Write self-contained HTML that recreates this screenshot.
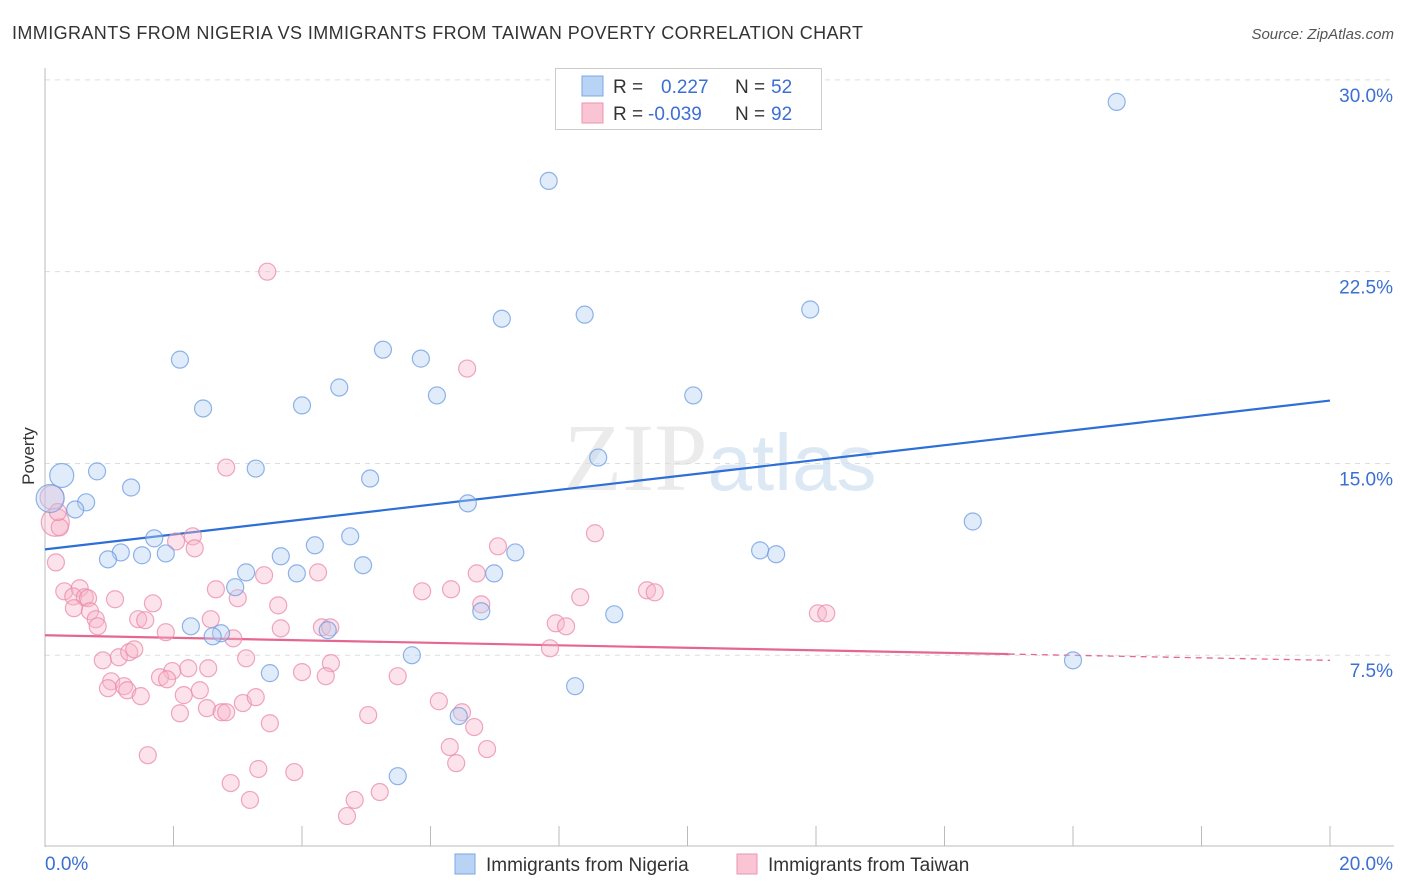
<!DOCTYPE html>
<html><head><meta charset="utf-8"><style>
body{margin:0;background:#fff;font-family:"Liberation Sans",sans-serif;}
svg{display:block}
</style></head><body>
<svg id="chart" width="1406" height="892" viewBox="0 0 1406 892" xmlns="http://www.w3.org/2000/svg">
<text x="12" y="39" font-size="18" fill="#333" textLength="851" lengthAdjust="spacing">IMMIGRANTS FROM NIGERIA VS IMMIGRANTS FROM TAIWAN POVERTY CORRELATION CHART</text>
<text x="1394" y="39" font-size="15" fill="#555" font-style="italic" text-anchor="end">Source: ZipAtlas.com</text>
<text x="720" y="490" font-size="96" fill="#ebebeb" text-anchor="middle" font-family="Liberation Serif,serif">ZIP<tspan fill="#dde8f5" font-family="Liberation Sans,sans-serif" font-size="80">atlas</tspan></text>
<g id="grid"></g>
<g id="axes"></g>
<g id="lines"></g>
<g id="pts"></g>
<text x="34" y="456" font-size="17" fill="#333" text-anchor="middle" transform="rotate(-90 34 456)">Poverty</text>
<g>
<rect x="555.5" y="68.5" width="266" height="61" fill="#fff" stroke="#ccc"/>
<rect x="582" y="76" width="21" height="20" fill="#b9d3f5" stroke="#7ba7e6"/>
<rect x="582" y="103" width="21" height="20" fill="#f9c5d5" stroke="#ee93b0"/>
<text y="93" font-size="19" fill="#333"><tspan x="613">R =</tspan><tspan x="661" fill="#3b6fd1">0.227</tspan><tspan x="735">N =</tspan><tspan x="771" fill="#3b6fd1">52</tspan></text>
<text y="120" font-size="19" fill="#333"><tspan x="613">R =</tspan><tspan x="648" fill="#3b6fd1">-0.039</tspan><tspan x="735">N =</tspan><tspan x="771" fill="#3b6fd1">92</tspan></text>
</g>
<g>
<rect x="455" y="854" width="20" height="20" fill="#b9d3f5" stroke="#7ba7e6"/>
<text x="486" y="871" font-size="19" fill="#333">Immigrants from Nigeria</text>
<rect x="737" y="854" width="20" height="20" fill="#f9c5d5" stroke="#ee93b0"/>
<text x="768" y="871" font-size="19" fill="#333">Immigrants from Taiwan</text>
</g>
</svg>
<script>
const xTicks=[0,2,4,6,8,10,12,14,16,18,20];
const yTicks=[7.5,15,22.5,30];
const yTickLabels=["7.5%","15.0%","22.5%","30.0%"];
const xEndLabels=["0.0%","20.0%"];
const nigeriaX=[16.68,7.84,8.40,7.11,11.91,2.10,5.26,5.85,4.58,6.10,10.09,2.46,4.00,3.28,0.81,0.26,1.34,5.06,8.61,0.64,0.47,6.58,14.44,1.70,4.75,4.20,1.18,0.98,1.51,1.88,3.67,7.32,11.13,11.38,4.95,3.13,3.92,6.99,2.96,6.79,8.86,2.27,2.74,4.40,2.61,5.71,3.50,16.00,8.25,6.44,5.49,0.08];
const nigeriaY=[29.14,26.05,20.82,20.66,21.02,19.06,19.45,19.10,17.97,17.66,17.66,17.15,17.27,14.80,14.69,14.53,14.06,14.41,15.23,13.48,13.20,13.44,12.73,12.07,12.15,11.80,11.52,11.25,11.41,11.48,11.37,11.52,11.60,11.45,11.02,10.74,10.70,10.70,10.16,9.22,9.10,8.63,8.36,8.48,8.24,7.50,6.80,7.30,6.29,5.12,2.77,13.63];
const taiwanX=[3.46,6.57,2.82,0.11,0.16,0.23,0.17,8.56,2.30,2.04,2.33,7.05,0.30,0.54,0.44,0.62,0.67,1.09,0.45,0.70,0.79,0.82,1.68,2.66,3.00,3.41,3.63,4.25,5.87,6.32,6.72,6.79,8.33,9.37,9.49,1.45,1.56,1.88,2.58,2.93,3.67,4.31,4.44,7.95,8.11,12.03,12.16,7.86,0.90,1.15,1.31,1.39,3.13,2.54,2.23,1.98,1.79,1.90,4.00,4.45,4.37,5.49,1.03,0.98,1.23,1.28,1.49,2.16,2.41,2.52,2.75,2.82,3.08,3.28,3.50,2.10,6.13,6.49,6.68,6.30,6.88,6.40,1.60,3.32,2.89,3.19,3.88,5.03,4.82,5.21,4.70,0.20];
const taiwanY=[22.50,18.71,14.84,13.67,12.70,12.50,11.13,12.27,12.15,11.95,11.68,11.76,10.00,10.12,9.80,9.77,9.73,9.69,9.34,9.22,8.91,8.63,9.53,10.08,9.73,10.63,9.45,10.74,10.00,10.08,10.70,9.49,9.77,10.04,9.96,8.91,8.87,8.40,8.91,8.16,8.55,8.59,8.59,8.75,8.63,9.14,9.14,7.77,7.30,7.42,7.62,7.73,7.38,6.99,6.99,6.88,6.64,6.56,6.84,7.19,6.68,6.68,6.48,6.21,6.29,6.13,5.90,5.94,6.13,5.43,5.27,5.27,5.63,5.86,4.84,5.23,5.70,5.27,4.69,3.91,3.83,3.28,3.59,3.05,2.50,1.84,2.93,5.16,1.84,2.15,1.21,13.10];
const nigeriaBig=[15,51];
const taiwanBig=[3,4];
const nigeriaTrend=[11.64,17.46];
const taiwanTrend=[8.28,7.30];
const taiwanSolidEnd=15.0;

const X0=45,X1=1330,Y0=847,YPER=25.57;
const sx=v=>X0+(X1-X0)*v/20;
const sy=v=>Y0-v*YPER;
const NS="http://www.w3.org/2000/svg";
function mk(t,a,p){const e=document.createElementNS(NS,t);for(const k in a)e.setAttribute(k,a[k]);p.appendChild(e);return e;}
const grid=document.getElementById('grid'),axes=document.getElementById('axes'),lines=document.getElementById('lines'),pts=document.getElementById('pts');
yTicks.forEach((v,i)=>{
 const l=mk('line',{x1:X0,x2:1394,y1:sy(v),y2:sy(v),stroke:'#ddd','stroke-dasharray':'5,5'},grid);
 
 
 const t=mk('text',{x:1393,y:sy(v)+22,'font-size':19,fill:'#3b6fd1','text-anchor':'end'},axes);
 t.textContent=yTickLabels[i];
 
 
});
const ya=mk('line',{x1:X0,x2:X0,y1:68,y2:847,stroke:'#bbb'},axes);


const xa=mk('line',{x1:X0,x2:1394,y1:846,y2:846,stroke:'#bbb'},axes);


xTicks.forEach(v=>{
 const l=mk('line',{x1:sx(v),x2:sx(v),y1:826,y2:846,stroke:'#bbb'},axes);
 
 
});
const xl0=mk('text',{x:45,y:870,'font-size':19,fill:'#3b6fd1'},axes);xl0.textContent=xEndLabels[0];


const xl1=mk('text',{x:1393,y:870,'font-size':19,fill:'#3b6fd1','text-anchor':'end'},axes);xl1.textContent=xEndLabels[1];


function drawPts(xs,ys,big,fill,stroke,name){
 xs.forEach((v,i)=>{
  const r=big.includes(i)?(i===big[0]?12:14):8.5;
  const c=mk('circle',{cx:sx(v),cy:sy(ys[i]),r:r,fill:fill,'fill-opacity':0.4,stroke:stroke,'stroke-opacity':0.75,'stroke-width':1.2},pts);
  
  
 });
}
drawPts(taiwanX,taiwanY,taiwanBig,'#f7b6ca','#e98aa9','taiwan-point');
drawPts(nigeriaX,nigeriaY,nigeriaBig,'#b3cff3','#6b9be0','nigeria-point');
const bt=mk('line',{x1:sx(0),y1:sy(nigeriaTrend[0]),x2:sx(20),y2:sy(nigeriaTrend[1]),stroke:'#2d6fd6','stroke-width':2.2},lines);


const tm=taiwanTrend[0]+(taiwanTrend[1]-taiwanTrend[0])*taiwanSolidEnd/20;
const pt=mk('line',{x1:sx(0),y1:sy(taiwanTrend[0]),x2:sx(taiwanSolidEnd),y2:sy(tm),stroke:'#e5678f','stroke-width':2.2},lines);


const pd=mk('line',{x1:sx(taiwanSolidEnd),y1:sy(tm),x2:sx(20),y2:sy(taiwanTrend[1]),stroke:'#e5678f','stroke-width':1.3,'stroke-dasharray':'6,5'},lines);


</script>
</body></html>
